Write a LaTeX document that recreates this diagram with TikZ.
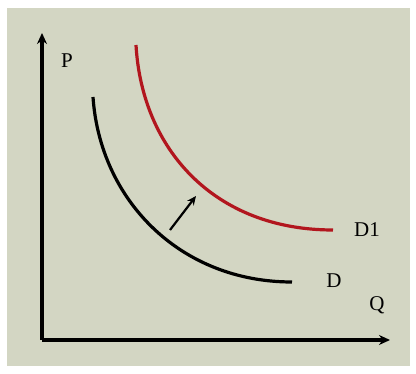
\documentclass[tikz,border=0pt]{standalone}
\usepackage{fontspec}
\usetikzlibrary{arrows.meta}
\setmainfont{Liberation Serif}
\definecolor{paper}{RGB}{211,214,195}
\definecolor{curvered}{RGB}{178,22,30}
\tikzset{
  axis/.style={line width=3.4pt,-{Stealth[length=11pt,width=10pt]}},
  curve/.style={line width=3.2pt},
  lbl/.style={font=\fontsize{21}{24}\selectfont,inner sep=0pt}
}
\begin{document}
\begin{tikzpicture}[>=stealth,x=1pt,y=-1pt]
            \useasboundingbox (0,0) rectangle (416,374);
            \fill[paper] (7,8) rectangle (410,366);
            \coordinate (o) at (42,340);
            \coordinate (ytop) at (42,33);
            \coordinate (xend) at (390,340);
            \draw[axis] (o) -- (ytop);
            \draw[axis] (o) -- (xend);
            \foreach \n/\x/\y/\t in {p/67/61/P,q/377/305/Q,d/334/281/D,done/367/230/D1} {
                \node[lbl] (\n) at (\x,\y) {\t};
            }
            \coordinate (d0) at (93,97);
            \coordinate (d1) at (292,282);
            \coordinate (e0) at (136,45);
            \coordinate (e1) at (333,230);
            \draw[curve] (d0) .. controls (100,200) and (180,282) .. (d1);
            \draw[curve,curvered] (e0) .. controls (142,150) and (215,230) .. (e1);
            \coordinate (s0) at (170,230);
            \coordinate (s1) at (196,196);
            \draw[-{Stealth[length=9pt,width=8pt]},line width=2.2pt] (s0) -- (s1);
        \end{tikzpicture}
\end{document}
